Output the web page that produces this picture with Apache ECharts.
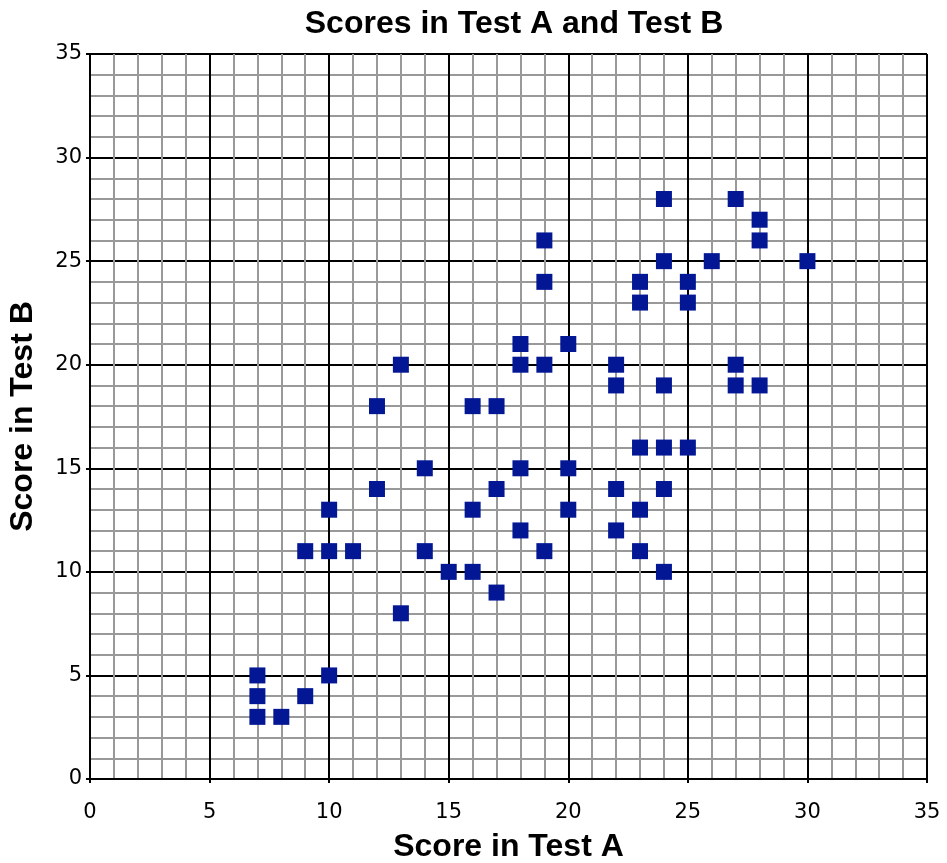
<!DOCTYPE html>
<html>
<head>
<meta charset="utf-8">
<script src="https://cdn.jsdelivr.net/npm/echarts@6/dist/echarts.min.js"></script>
<style>
html,body{margin:0;padding:0;background:#fff;}
#chart{width:947px;height:863px;}
</style>
</head>
<body>
<div id="chart"></div>
<script>
var titleText = 'Scores in Test A and Test B';
var xAxisName = 'Score in Test A';
var yAxisName = 'Score in Test B';
var scoreA = [7,7,7,8,9,10, 9,10,10,11, 12,12,13,13,14,14, 15,16,16,16,17,17,17, 18,18,18,18,19,19,19,19, 20,20,20, 22,22,22,22, 23,23,23,23,23, 24,24,24,24,24,24, 25,25,25, 26, 27,27,27, 28,28,28, 30];
var scoreB = [5,4,3,3,4,5, 11,11,13,11, 18,14,20,8,15,11, 10,10,13,18,18,14,9, 21,20,15,12,26,24,20,11, 21,15,13, 20,19,14,12, 24,23,16,13,11, 28,25,19,16,14,10, 24,23,16, 25, 28,20,19, 27,26,19, 25];

var pts = scoreA.map(function(a,i){return [a, scoreB[i]];});
var chart = echarts.init(document.getElementById('chart'));
function axis(name, gap, rot, margin){
  return {
    type:'value', min:0, max:35, interval:5,
    name:name, nameLocation:'middle', nameGap:gap, nameRotate:rot,
    nameTextStyle:{color:'#000', fontFamily:'Liberation Sans', fontWeight:'bold', fontSize:32},
    axisLine:{show:true, lineStyle:{color:'#000', width:2}},
    axisTick:{show:true, length:4, lineStyle:{color:'#000', width:2}},
    axisLabel:{margin:margin, color:'#000', fontFamily:'DejaVu Sans', fontSize:21},
    splitLine:{show:true, lineStyle:{color:'#000', width:2}},
    minorTick:{show:false, splitNumber:5},
    minorSplitLine:{show:true, lineStyle:{color:'#999', width:2}}
  };
}
chart.setOption({
  animation:false,
  backgroundColor:'#fff',
  title:{text:titleText, left:509, top:3, textAlign:'center',
    textStyle:{color:'#000', fontFamily:'Liberation Sans', fontWeight:'bold', fontSize:32}},
  grid:{left:90, right:20, top:54, bottom:84, containLabel:false, outerBoundsMode:'none'},
  xAxis:axis(xAxisName, 52, 0, 23),
  yAxis:axis(yAxisName, 51, 90, 8),
  series:[{type:'scatter', data:pts, symbol:'rect', symbolSize:16,
    itemStyle:{color:'#031795', opacity:1}}]
});
</script>
</body>
</html>
